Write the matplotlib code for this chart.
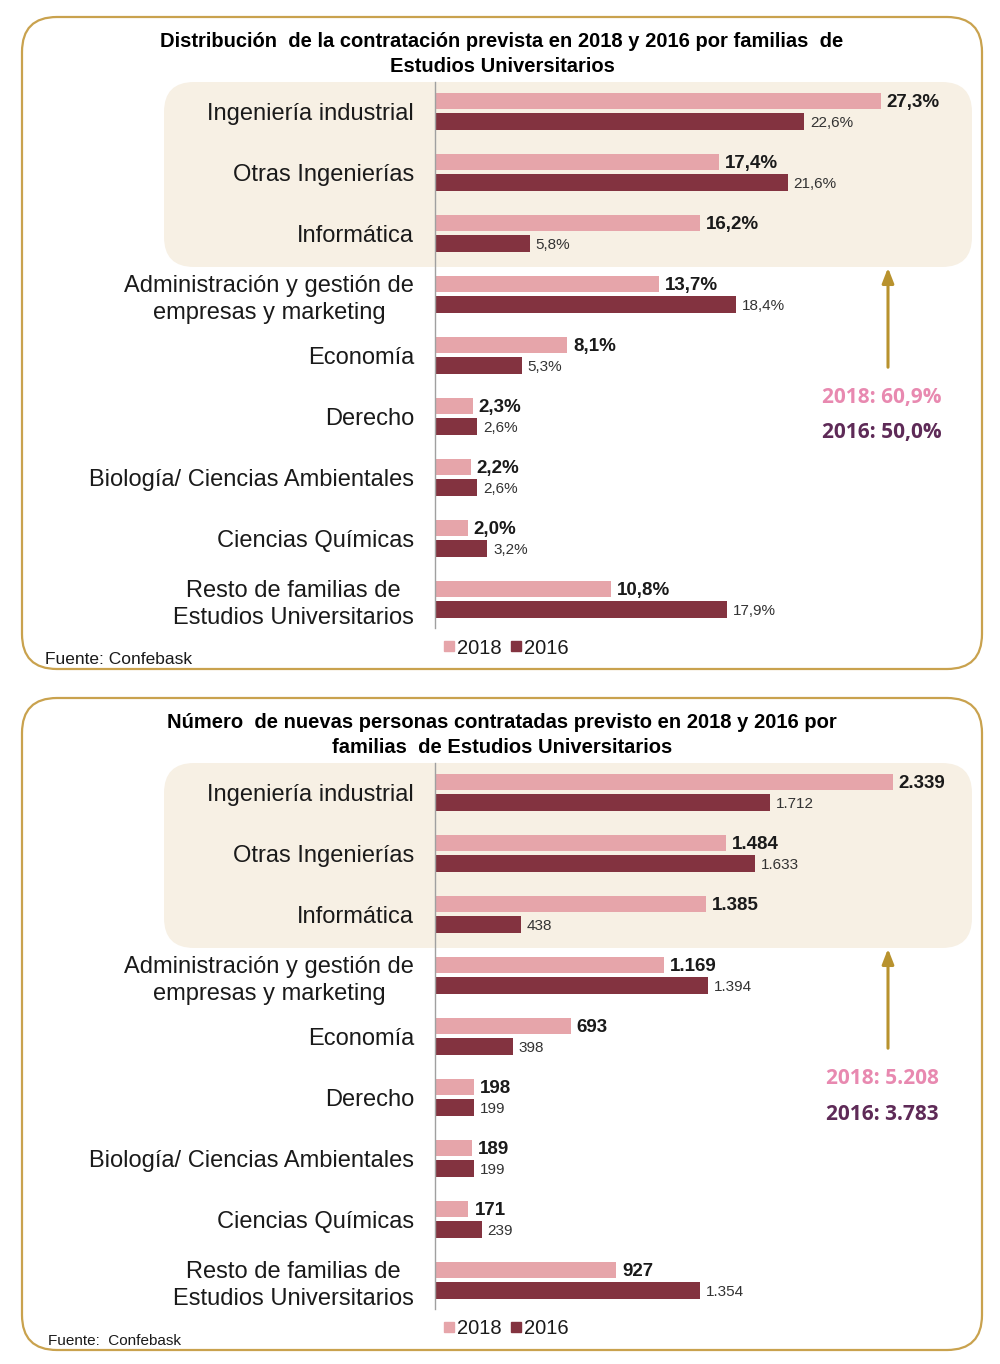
import matplotlib.pyplot as plt
from matplotlib.patches import FancyBboxPatch

plt.rcParams['font.family'] = ['Liberation Sans', 'DejaVu Sans']

# Data
categorias = ['Ingeniería industrial', 'Otras Ingenierías', 'Informática',
              'Administración y gestión de\nempresas y marketing', 'Economía',
              'Derecho', 'Biología/ Ciencias Ambientales', 'Ciencias Químicas',
              'Resto de familias de\nEstudios Universitarios']
pct_2018 = [27.3, 17.4, 16.2, 13.7, 8.1, 2.3, 2.2, 2.0, 10.8]
pct_2016 = [22.6, 21.6, 5.8, 18.4, 5.3, 2.6, 2.6, 3.2, 17.9]
num_2018 = [2339, 1484, 1385, 1169, 693, 198, 189, 171, 927]
num_2016 = [1712, 1633, 438, 1394, 398, 199, 199, 239, 1354]
total_pct = ['2018: 60,9%', '2016: 50,0%']
total_num = ['2018: 5.208', '2016: 3.783']
titulo1 = 'Distribución  de la contratación prevista en 2018 y 2016 por familias  de\nEstudios Universitarios'
titulo2 = 'Número  de nuevas personas contratadas previsto en 2018 y 2016 por\nfamilias  de Estudios Universitarios'

# Colours
c2018 = '#E6A5AA'
c2016 = '#833340'
gold = '#C9A24E'
beige = '#F7F0E4'

W, H = 1000, 1364
fig = plt.figure(figsize=(W / 100, H / 100), dpi=100)


def fx(x):
    return x / W


def fy(y):
    return 1 - y / H


def rounded_box(x0, y0, x1, y1, r, **kw):
    # box in pixel coords (top origin), drawn in figure coords
    p = FancyBboxPatch((fx(x0) + r / W, fy(y1) + r / H),
                       (x1 - x0 - 2 * r) / W, (y1 - y0 - 2 * r) / H,
                       boxstyle='round,pad=%f' % (r / W),
                       transform=fig.transFigure, mutation_aspect=W / H, **kw)
    fig.patches.append(p)


def fmt_pct(v):
    return ('%.1f' % v).replace('.', ',') + '%'


def fmt_num(v):
    return '{:,}'.format(v).replace(',', '.')


def panel(dy, vals18, vals16, xmax, fmt, titulo, totales, fuente, fuente_x, fuente_size):
    # outer border
    rounded_box(22, 17 + dy, 982, 669 + dy, 35, facecolor='none', edgecolor=gold, lw=1.6, zorder=-2)
    # highlight box
    rounded_box(164, 82 + dy, 972, 267 + dy, 30, facecolor=beige, edgecolor='none', zorder=-1)

    fig.text(0.502, fy(54 + dy), titulo, ha='center', va='center', fontsize=14.5,
             fontweight='bold', linespacing=1.35)

    ax = fig.add_axes([fx(435), fy(628 + dy), fx(974) - fx(435), (628 - 82) / H])
    ax.set_zorder(2)
    ax.patch.set_alpha(0)
    n = len(categorias)
    pos = list(range(n))
    h = 0.27
    off = 0.17
    ax.barh([p - off for p in pos], vals18, height=h, color=c2018)
    ax.barh([p + off for p in pos], vals16, height=h, color=c2016)
    ax.set_xlim(0, xmax)
    ax.set_ylim(8.47, -0.48)
    gap = xmax * 0.011
    for p, a, b in zip(pos, vals18, vals16):
        ax.text(a + gap, p - off, fmt(a), va='center_baseline', ha='left', fontsize=13.5,
                fontweight='bold', color='#1a1a1a')
        ax.text(b + gap, p + off, fmt(b), va='center_baseline', ha='left', fontsize=11,
                color='#333333')
    ax.set_yticks(pos)
    ax.set_yticklabels(categorias, fontsize=17, color='#1a1a1a', linespacing=1.3)
    for t in ax.get_yticklabels():
        t.set_multialignment('center')
    ax.tick_params(axis='y', length=0, pad=15)
    ax.set_xticks([])
    for s in ['top', 'right', 'bottom']:
        ax.spines[s].set_visible(False)
    ax.spines['left'].set_color('#A0A0A0')
    ax.spines['left'].set_linewidth(1.0)

    # legend
    fig.patches.append(plt.Rectangle((fx(444), fy(651 + dy)), 10 / W, 10 / H,
                                     transform=fig.transFigure, color=c2018))
    fig.text(fx(457), fy(646 + dy), '2018', va='center_baseline', ha='left', fontsize=14.5, color='#1a1a1a')
    fig.patches.append(plt.Rectangle((fx(511), fy(651 + dy)), 10 / W, 10 / H,
                                     transform=fig.transFigure, color=c2016))
    fig.text(fx(524), fy(646 + dy), '2016', va='center_baseline', ha='left', fontsize=14.5, color='#1a1a1a')

    # arrow and totals
    fig.add_artist(plt.Annotation('', xy=(fx(888), fy(265 + dy)), xytext=(fx(888), fy(370 + dy)),
                                  xycoords='figure fraction', textcoords='figure fraction',
                                  arrowprops=dict(arrowstyle='-|>,head_length=0.9,head_width=0.35',
                                                  color='#B8922E', lw=2.2)))
    fig.text(fx(882), fy(398 + dy), totales[0], ha='center', va='center', fontsize=15,
             fontweight='bold', color='#E889B0', family=['Open Sans', 'DejaVu Sans'])
    fig.text(fx(882), fy(433 + dy), totales[1], ha='center', va='center', fontsize=15,
             fontweight='bold', color='#5E2A57', family=['Open Sans', 'DejaVu Sans'])

    fig.text(fx(fuente_x), fy(660 + dy), fuente, ha='left', va='center', fontsize=fuente_size,
             color='#1a1a1a')


panel(0, pct_2018, pct_2016, 33.0, fmt_pct, titulo1, total_pct, 'Fuente: Confebask', 45, 12.5)
panel(681, num_2018, num_2016, 2753, fmt_num, titulo2, total_num, 'Fuente:  Confebask', 48, 11)

fig.savefig('out.png', dpi=100)
